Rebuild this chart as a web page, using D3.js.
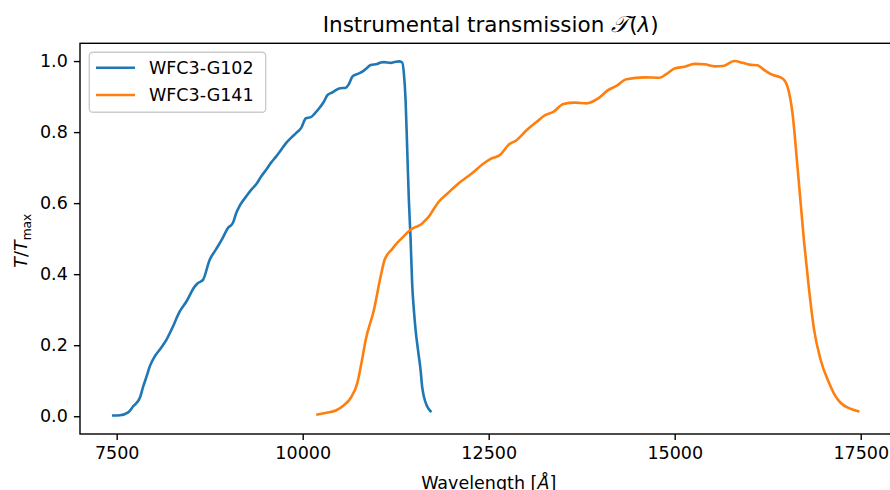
<!DOCTYPE html>
<html>
<head>
<meta charset="utf-8">
<script src="https://cdn.jsdelivr.net/npm/d3@7"></script>
<style>
  html, body { margin: 0; padding: 0; background: #fff; }
  svg { display: block; font-family: "DejaVu Sans", sans-serif; }
</style>
</head>
<body>
<svg id="chart" width="890" height="490"></svg>
<script>
// ---- data ----
const seriesNames = ["WFC3-G102", "WFC3-G141"];
const seriesColors = ["#1f77b4", "#ff7f0e"];

const g102Wave = [7454, 7545, 7655, 7722, 7812, 7857, 7902, 7946, 8013, 8080, 8170, 8237, 8348, 8437, 8548, 8593, 8660, 8749, 8839, 8920, 8995, 9061, 9107, 9160, 9241, 9310, 9375, 9442, 9509, 9575, 9642, 9710, 9776, 9850, 9910, 9980, 10044, 10111, 10160, 10222, 10280, 10333, 10400, 10446, 10490, 10580, 10620, 10668, 10740, 10802, 10860, 10914, 11003, 11050, 11092, 11182, 11250, 11293, 11338, 11360, 11383, 11405, 11427, 11450, 11472, 11494, 11517, 11561, 11584, 11605, 11628, 11672, 11718];
const g102Trans = [0.002, 0.003, 0.011, 0.028, 0.052, 0.084, 0.112, 0.141, 0.169, 0.188, 0.216, 0.244, 0.295, 0.323, 0.365, 0.375, 0.384, 0.440, 0.471, 0.500, 0.530, 0.544, 0.572, 0.595, 0.619, 0.638, 0.653, 0.675, 0.694, 0.714, 0.731, 0.750, 0.769, 0.785, 0.797, 0.812, 0.839, 0.842, 0.852, 0.867, 0.884, 0.904, 0.912, 0.918, 0.923, 0.925, 0.935, 0.956, 0.964, 0.970, 0.980, 0.989, 0.992, 0.996, 0.997, 0.995, 0.998, 0.999, 0.996, 0.965, 0.890, 0.750, 0.609, 0.500, 0.370, 0.300, 0.244, 0.169, 0.131, 0.084, 0.056, 0.028, 0.014];

const g141Wave = [10199, 10320, 10446, 10550, 10647, 10735, 10790, 10848, 10958, 11048, 11100, 11137, 11200, 11249, 11350, 11450, 11520, 11584, 11640, 11695, 11760, 11829, 11950, 12097, 12276, 12409, 12520, 12655, 12766, 12878, 13012, 13146, 13258, 13369, 13503, 13660, 13815, 13972, 14105, 14217, 14351, 14597, 14798, 14886, 14998, 15132, 15266, 15400, 15534, 15645, 15802, 15913, 16003, 16114, 16200, 16292, 16449, 16516, 16583, 16650, 16739, 16806, 16873, 16961, 17074, 17150, 17229, 17350, 17466];
const g141Trans = [0.005, 0.010, 0.016, 0.030, 0.052, 0.094, 0.150, 0.216, 0.300, 0.394, 0.440, 0.455, 0.470, 0.483, 0.505, 0.525, 0.533, 0.539, 0.550, 0.562, 0.583, 0.604, 0.628, 0.656, 0.684, 0.708, 0.724, 0.736, 0.764, 0.778, 0.806, 0.829, 0.848, 0.857, 0.879, 0.883, 0.881, 0.895, 0.918, 0.930, 0.949, 0.954, 0.953, 0.963, 0.979, 0.984, 0.992, 0.991, 0.985, 0.986, 1.000, 0.995, 0.990, 0.988, 0.975, 0.963, 0.951, 0.928, 0.853, 0.703, 0.490, 0.356, 0.244, 0.159, 0.094, 0.060, 0.038, 0.022, 0.014];

const xTicks = [7500, 10000, 12500, 15000, 17500];
const yTicks = [0.0, 0.2, 0.4, 0.6, 0.8, 1.0];

// ---- layout ----
const W = 890, H = 490;
const pLeft = 80, pRight = 897.4, pTop = 43.3, pBottom = 434;
const fs = 17.5;
const svg = d3.select("#chart");

const x = d3.scaleLinear().domain([7007, 17993]).range([pLeft, pRight]);
const y = d3.scaleLinear().domain([-0.05, 1.05]).range([pBottom, pTop]);

const series = [
  { name: seriesNames[0], color: seriesColors[0], pts: g102Wave.map((w, i) => [w, g102Trans[i]]) },
  { name: seriesNames[1], color: seriesColors[1], pts: g141Wave.map((w, i) => [w, g141Trans[i]]) }
];

const line = d3.line().x(d => x(d[0])).y(d => y(d[1])).curve(d3.curveMonotoneX);

svg.append("defs").append("clipPath").attr("id", "clip")
  .append("rect").attr("x", pLeft).attr("y", pTop).attr("width", pRight - pLeft).attr("height", pBottom - pTop);

const plot = svg.append("g").attr("clip-path", "url(#clip)");
series.forEach(s => {
  plot.append("path").datum(s.pts)
    .attr("d", line)
    .attr("fill", "none")
    .attr("stroke", s.color)
    .attr("stroke-width", 2.6)
    .attr("stroke-linejoin", "round")
    .attr("stroke-linecap", "square");
});

// axes
const xAxis = d3.axisBottom(x).tickValues(xTicks).tickFormat(d3.format("d")).tickSize(6.1).tickPadding(6.5);
const yAxis = d3.axisLeft(y).tickValues(yTicks).tickFormat(d3.format(".1f")).tickSize(6.1).tickPadding(6.1);

const gx = svg.append("g").attr("transform", `translate(0,${pBottom})`).call(xAxis);
const gy = svg.append("g").attr("transform", `translate(${pLeft},0)`).call(yAxis);
[gx, gy].forEach(g => {
  g.select(".domain").remove();
  g.selectAll(".tick line").attr("stroke", "#000").attr("stroke-width", 1.4);
  g.selectAll(".tick text").attr("fill", "#000").attr("font-size", fs).attr("font-family", "DejaVu Sans");
});

// frame
svg.append("rect").attr("x", pLeft).attr("y", pTop).attr("width", pRight - pLeft).attr("height", pBottom - pTop)
  .attr("fill", "none").attr("stroke", "#000").attr("stroke-width", 1.4);

// title
const title = svg.append("text").attr("x", (pLeft + pRight) / 2 + 2).attr("y", 32.3)
  .attr("text-anchor", "middle").attr("font-size", 21.5).attr("fill", "#000");
title.append("tspan").text("Instrumental transmission ");
title.append("tspan").attr("font-family", "DejaVu Serif").attr("font-style", "italic").attr("font-size", 23).text("\uD835\uDCAF");
title.append("tspan").text("(");
title.append("tspan").attr("font-style", "italic").text("λ");
title.append("tspan").text(")");

// x label
const xl = svg.append("text").attr("x", (pLeft + pRight) / 2).attr("y", 489)
  .attr("text-anchor", "middle").attr("font-size", fs).attr("fill", "#000");
xl.append("tspan").text("Wavelength [");
xl.append("tspan").attr("font-style", "italic").text("Å");
xl.append("tspan").text("]");

// y label
const yl = svg.append("text").attr("transform", `translate(27,${(pTop + pBottom) / 2 + 2}) rotate(-90)`)
  .attr("text-anchor", "middle").attr("font-size", fs).attr("fill", "#000");
yl.append("tspan").attr("font-style", "italic").text("T");
yl.append("tspan").text("/");
yl.append("tspan").attr("font-style", "italic").text("T");
yl.append("tspan").attr("font-size", fs * 0.7).attr("dy", 3.5).text("max");

// legend
const lg = svg.append("g");
lg.append("rect").attr("x", 89.3).attr("y", 52.3).attr("width", 176.4).attr("height", 60)
  .attr("rx", 3.5).attr("fill", "#fff").attr("fill-opacity", 0.8)
  .attr("stroke", "#cccccc").attr("stroke-width", 1.4);
series.forEach((s, i) => {
  const ly = 67.7 + i * 27.3;
  lg.append("line").attr("x1", 96).attr("x2", 135).attr("y1", ly).attr("y2", ly)
    .attr("stroke", s.color).attr("stroke-width", 2.6);
  lg.append("text").attr("x", 149).attr("y", ly + 6.3).attr("font-size", fs).attr("fill", "#000").text(s.name);
});
</script>
</body>
</html>
